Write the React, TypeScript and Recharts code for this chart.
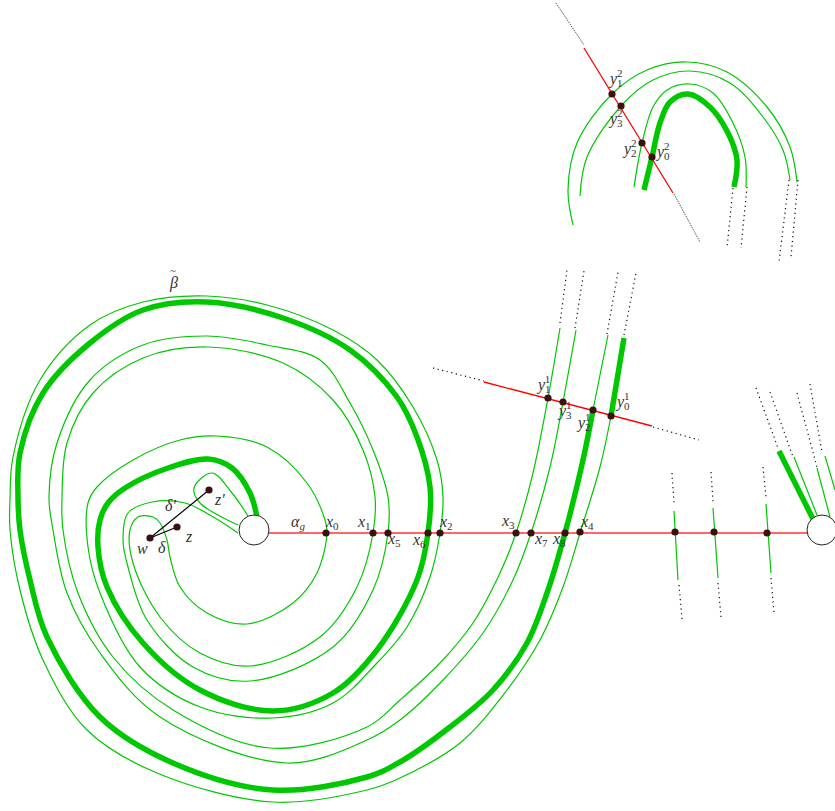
import React from "react";
import { ScatterChart, Scatter, XAxis, YAxis } from "recharts";

type Pt = [number, number];

// the long spiral strands in page pixels
const outerStrand: Pt[] = [[611,416],[600,467],[580,533],[563,587],[540,640],[507,690],[460,743],[400,778],[367,790],[273,802],[157,773],[87,730],[43,660],[20,590],[10,530],[10,500],[13,457],[40,380],[90,325],[143,302],[207,296],[267,305],[333,330],[377,360],[413,407],[437,460],[443,497],[440,533],[430,577],[407,627],[377,663],[333,703],[273,718],[200,707],[140,667],[100,593],[88,547],[88,503],[97,487],[133,460],[180,440],[217,436],[267,447],[307,483],[325,520],[327,533],[317,573],[293,603],[247,624],[207,613],[180,587],[170,557],[167,540],[160,523],[153,517],[138,517],[130,530],[133,563],[160,617],[200,653],[250,666],[320,637],[357,587],[373,533],[375,497],[363,450],[333,400],[283,363],[207,347],[143,358],[93,393],[67,443],[62,497],[63,530],[78,593],[113,657],[173,710],[270,748],[367,727],[400,700],[440,663],[473,623],[500,573],[516,533],[533,473],[548,398],[560,328]];
const middleStrand: Pt[] = [[238,533],[215,518],[185,503],[152,502],[128,513],[123,540],[128,567],[147,620],[193,667],[250,681],[333,647],[373,590],[388,533],[388,497],[373,450],[350,403],[320,360],[267,345],[207,336],[143,345],[90,380],[57,443],[49,497],[53,530],[67,593],[100,653],[160,717],[287,763],[367,740],[400,720],[443,680],[483,633],[513,580],[531,533],[550,467],[563,402],[576,330]];
const thickStrand: Pt[] = [[257,517],[250,493],[232,468],[208,459],[168,468],[125,488],[108,503],[100,520],[98,547],[107,587],[143,643],[200,690],[273,711],[333,693],[377,650],[417,580],[428,533],[430,487],[417,437],[397,397],[350,350],[283,318],[207,302],[143,310],[90,343],[43,393],[20,453],[18,497],[20,530],[30,580],[47,637],[100,717],[173,763],[273,790],[367,777],[400,762],[450,727],[493,690],[527,643],[547,593],[565,533],[583,460],[593,410]];
const zLoop: Pt[] = [[248,516],[232,493],[212,473],[194,488],[200,503],[238,525]];

// short straight pieces
const thinPieces: Pt[][] = [
  [[593,410],[608,335]],
  [[674,511],[678,580]],
  [[713,508],[718,578]],
  [[766,504],[771,573]],
  [[794,457],[817,515]],
  [[817,468],[830,517]],
  [[825,456],[835,490]],
];
const thickPieces: Pt[][] = [
  [[611,416],[624,338]],
  [[779,451],[813,519]],
];

// upper arcs
const topThin: Pt[][] = [
  [[573,225],[568,190],[577,143],[612,94],[647,70],[687,62],[727,72],[767,107],[790,147],[797,182]],
  [[580,196],[587,157],[621,106],[653,80],[690,71],[730,83],[763,117],[783,150],[790,180]],
  [[634,187],[642,143],[653,107],[667,90],[690,84],[713,93],[733,123],[745,157],[746,187]],
];
const topThick: Pt[] = [[644,190],[652,157],[660,123],[670,102],[688,94],[710,107],[728,133],[737,160],[734,187]];

const dottedPieces: Pt[][] = [
  [[560,323],[567,270]],[[575,328],[584,271]],[[607,334],[618,272]],[[624,335],[636,273]],
  [[433,368],[484,381]],[[653,427],[699,440]],
  [[672,473],[674,503]],[[711,472],[713,502]],[[763,467],[766,497]],
  [[679,585],[682,619]],[[718,583],[721,617]],[[771,578],[774,613]],
  [[756,388],[778,448]],[[770,392],[793,457]],[[797,393],[817,467]],[[810,384],[822,452]],
  [[733,188],[727,248]],[[747,187],[741,248]],[[789,180],[779,262]],[[798,180],[791,257]],
];
const greyDotted: Pt[][] = [
  [[556,3],[584,45]],
  [[674,194],[700,242]],
];

const alphaLine: Pt[] = [[269,533],[808,533]];
const redLines: Pt[][] = [
  [[484,382],[652,426]],
  [[584,48],[673,193]],
];
const blackLines: Pt[][] = [
  [[150,538],[209,490]],
  [[150,538],[177,527]],
];
const holes: Pt[] = [[254,530],[822,530]];
const basePoints: Pt[] = [[150,538],[177,527],[209,490],[326,533],[373,533],[388,533],[428,533],[440,533],[516,533],[531,533],[565,533],[580,532],[675,532],[714,532],[767,533],[548,398],[563,402],[593,410],[611,416],[612,94],[621,106],[642,143],[652,157]];

// name, subscript, superscript, x, baseline y
const labels: [string, string, string, number, number][] = [
  ["β","","~",170,288],["α","g","",291,527],["w","","",137,554],["δ","","",158,553],["z","","",186,542],["z′","","",215,505],["δ′","","",165,511],
  ["x","0","",326,527],["x","1","",358,527],["x","5","",388,544],["x","6","",413,545],["x","2","",440,527],["x","3","",502,526],["x","7","",535,544],["x","8","",553,544],["x","4","",581,527],
  ["y","1","1",538,390],["y","3","1",559,416],["y","2","1",578,428],["y","0","1",617,407],
  ["y","1","2",610,84],["y","3","2",610,124],["y","2","2",624,154],["y","0","2",657,157],
];

const GREEN = "#00c800";
const toXY = (pts: Pt[]) => pts.map(([x, y]) => ({ x, y }));
const noShape = () => null;

// centripetal catmull-rom, copes with the uneven spacing of hand read points
const smooth = (ctx: any) => {
  let pts: Pt[] = [];
  return {
    areaStart() {},
    areaEnd() {},
    lineStart() { pts = []; },
    point(x: number, y: number) { pts.push([+x, +y]); },
    lineEnd() {
      if (!pts.length) return;
      ctx.moveTo(pts[0][0], pts[0][1]);
      for (let i = 0; i < pts.length - 1; i++) {
        const a = pts[Math.max(i - 1, 0)], b = pts[i], c = pts[i + 1], d = pts[Math.min(i + 2, pts.length - 1)];
        const l1 = Math.hypot(b[0] - a[0], b[1] - a[1]);
        const l2 = Math.hypot(c[0] - b[0], c[1] - b[1]);
        const l3 = Math.hypot(d[0] - c[0], d[1] - c[1]);
        const s1 = Math.sqrt(l1), s2 = Math.sqrt(l2), s3 = Math.sqrt(l3);
        let c1: Pt = b, c2: Pt = c;
        if (l1 > 1e-6) {
          const k = 2 * l1 + 3 * s1 * s2 + l2, n = 3 * s1 * (s1 + s2);
          c1 = [(b[0] * k - a[0] * l2 + c[0] * l1) / n, (b[1] * k - a[1] * l2 + c[1] * l1) / n];
        }
        if (l3 > 1e-6) {
          const k = 2 * l3 + 3 * s3 * s2 + l2, m = 3 * s3 * (s3 + s2);
          c2 = [(c[0] * k + b[0] * l3 - d[0] * l2) / m, (c[1] * k + b[1] * l3 - d[1] * l2) / m];
        }
        ctx.bezierCurveTo(c1[0], c1[1], c2[0], c2[1], c[0], c[1]);
      }
    },
  };
};

const curve = (pts: Pt[], key: string, stroke: string, width: number, dash?: string, joint: any = smooth) => (
  <Scatter
    key={key}
    data={toXY(pts)}
    line={{ stroke, strokeWidth: width, strokeDasharray: dash, fill: "none" }}
    lineJointType={joint}
    shape={noShape}
    isAnimationActive={false}
  />
);

const MathLabel = (props: any) => {
  const { cx, cy, payload } = props;
  const { name, sub, sup } = payload;
  return (
    <text x={cx} y={cy} fontFamily="Liberation Serif" fontStyle="italic" fontSize={16} fill="#333">
      {name}
      {sub && <tspan dy={3} fontSize={11} fontStyle={/\d/.test(sub) ? "normal" : "italic"}>{sub}</tspan>}
      {sup && <tspan dx={sub ? -5.5 : -8} dy={sub ? -10 : -14} fontSize={11} fontStyle="normal">{sup}</tspan>}
    </text>
  );
};

export default function App() {
  return (
    <div style={{ position: "absolute", left: 0, top: 0, background: "white" }}>
      <ScatterChart width={835} height={811} margin={{ top: 0, right: 0, bottom: 0, left: 0 }}>
        <XAxis type="number" dataKey="x" domain={[0, 835]} hide />
        <YAxis type="number" dataKey="y" domain={[0, 811]} reversed hide />

        {curve(outerStrand, "outer", GREEN, 1.2)}
        {curve(middleStrand, "middle", GREEN, 1.2)}
        {curve(zLoop, "zloop", GREEN, 1.2)}
        {curve(thickStrand, "thick", GREEN, 5.5)}
        {thinPieces.map((p, i) => curve(p, "thin" + i, GREEN, 1.2, undefined, "linear"))}
        {thickPieces.map((p, i) => curve(p, "thickp" + i, GREEN, 5.5, undefined, "linear"))}
        {topThin.map((p, i) => curve(p, "top" + i, GREEN, 1.2))}
        {curve(topThick, "topthick", GREEN, 5.5)}

        {dottedPieces.map((p, i) => curve(p, "dot" + i, "#111", 1.2, "1.2 3.5", "linear"))}
        {greyDotted.map((p, i) => curve(p, "grey" + i, "#555", 1, "1.5 1", "linear"))}

        {curve(alphaLine, "alpha", "#f33", 1.4, undefined, "linear")}
        {redLines.map((p, i) => curve(p, "red" + i, "#f00", 1.3, undefined, "linear"))}
        {blackLines.map((p, i) => curve(p, "black" + i, "#000", 1.2, undefined, "linear"))}

        <Scatter
          data={toXY(holes)}
          isAnimationActive={false}
          shape={(p: any) => <circle cx={p.cx} cy={p.cy} r={15} fill="white" stroke="#222" strokeWidth={1} />}
        />
        <Scatter
          data={toXY(basePoints)}
          isAnimationActive={false}
          shape={(p: any) => <circle cx={p.cx} cy={p.cy} r={3.6} fill="#3a1012" />}
        />
        <Scatter
          data={labels.map(([name, sub, sup, x, y]) => ({ name, sub, sup, x, y }))}
          isAnimationActive={false}
          shape={MathLabel}
        />
      </ScatterChart>
    </div>
  );
}
